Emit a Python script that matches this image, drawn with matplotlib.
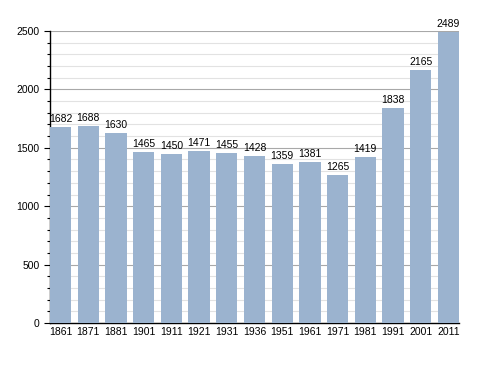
import matplotlib
matplotlib.use('Agg')
import matplotlib.pyplot as plt
from matplotlib.ticker import MultipleLocator

plt.rcParams['font.family'] = ['Liberation Sans', 'DejaVu Sans']

years = ['1861', '1871', '1881', '1901', '1911', '1921', '1931', '1936',
         '1951', '1961', '1971', '1981', '1991', '2001', '2011']
population = [1682, 1688, 1630, 1465, 1450, 1471, 1455, 1428,
              1359, 1381, 1265, 1419, 1838, 2165, 2489]

fig = plt.figure(figsize=(4.88, 3.73), dpi=100)
ax = fig.add_axes([0.1025, 0.134, 0.838, 0.783])

x = range(len(years))
ax.bar(x, population, width=0.77, color='#9bb3cf', zorder=3)
for xi, v in zip(x, population):
    ax.text(xi, v + 25, str(v), ha='center', va='bottom', fontsize=7.5, zorder=4)

ax.set_xlim(-0.385, len(years) - 1 + 0.385)
ax.set_ylim(0, 2500)
ax.set_xticks(list(x))
ax.set_xticklabels(years, fontsize=7.5)
ax.yaxis.set_major_locator(MultipleLocator(500))
ax.yaxis.set_minor_locator(MultipleLocator(100))
ax.tick_params(axis='y', labelsize=7.5, length=4, width=0.8)
ax.tick_params(axis='y', which='minor', length=2.5, width=0.8)
ax.tick_params(axis='x', length=0, pad=3)
ax.grid(axis='y', which='major', color='#a8a8a8', linewidth=0.8, zorder=0)
ax.grid(axis='y', which='minor', color='#e2e2e2', linewidth=0.8, zorder=0)
for side in ['top', 'right']:
    ax.spines[side].set_visible(False)
ax.spines['left'].set_linewidth(1)
ax.spines['bottom'].set_linewidth(1)

fig.savefig('out.png')
